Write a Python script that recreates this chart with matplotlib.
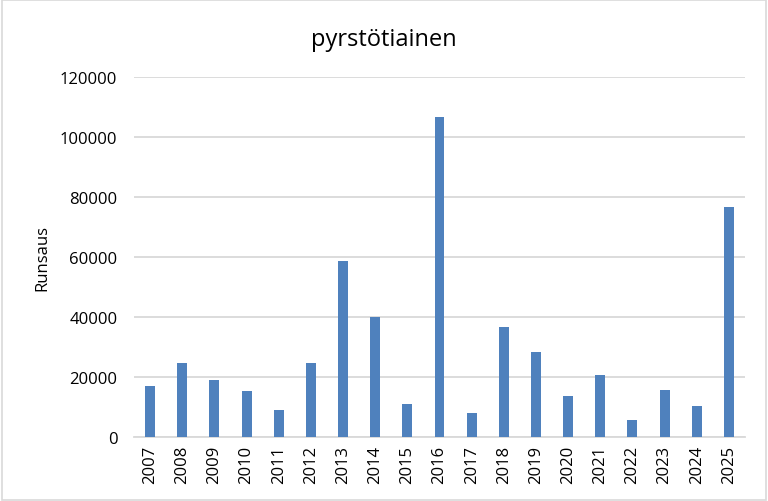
import matplotlib
matplotlib.use("Agg")
import matplotlib.pyplot as plt
from matplotlib.patches import Rectangle

plt.rcParams["font.family"] = ["Open Sans", "DejaVu Sans"]

years = [str(y) for y in range(2007, 2026)]
counts = [16900, 24570, 18900, 15200, 8900, 24570, 58570, 39900, 10900,
          106570, 7900, 36570, 28230, 13570, 20570, 5570, 15570, 10230, 76570]
y_ticks = [0, 20000, 40000, 60000, 80000, 100000, 120000]

fig = plt.figure(figsize=(7.68, 5.02), dpi=100)
ax = fig.add_axes([134 / 768, 1 - 437.7 / 502, 611 / 768, 359.7 / 502])

ax.bar(years, counts, width=0.31, color="#4f81bd", zorder=3)
ax.set_xlim(-0.5, len(years) - 0.5)
ax.set_ylim(0, 120000)
ax.set_yticks(y_ticks)
ax.grid(axis="y", color="#d9d9d9", linewidth=1.3, zorder=0)
for s in ["top", "right", "left"]:
    ax.spines[s].set_visible(False)
ax.spines["bottom"].set_color("#d9d9d9")
ax.spines["bottom"].set_linewidth(1.3)
ax.tick_params(axis="both", length=0, labelsize=12, colors="#000000")
ax.tick_params(axis="y", pad=12)
ax.tick_params(axis="x", pad=6)
plt.setp(ax.get_xticklabels(), rotation=90)
ax.set_ylabel("Runsaus", fontsize=12, labelpad=7)
fig.text(0.5, 1 - 40 / 502, "pyrstötiainen", ha="center", va="center", fontsize=17)

fig.patches.append(Rectangle((0.002, 0.002), 0.996, 0.996, transform=fig.transFigure,
                             fill=False, edgecolor="#d9d9d9", linewidth=1.2))

fig.savefig("out.png", dpi=100)
